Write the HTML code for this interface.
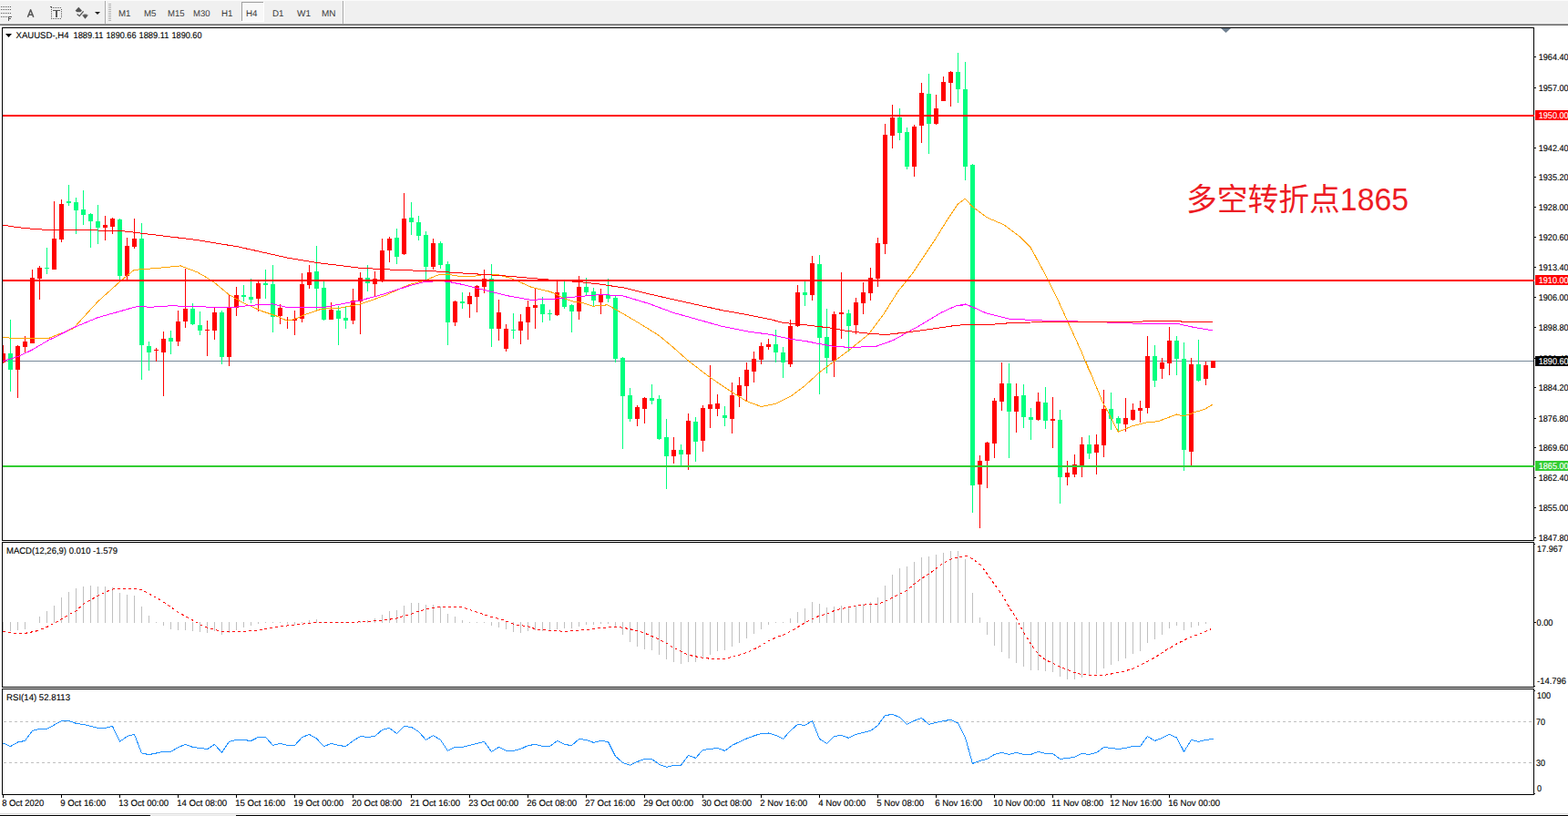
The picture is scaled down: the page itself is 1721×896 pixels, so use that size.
<!DOCTYPE html>
<html><head><meta charset="utf-8"><title>XAUUSD H4</title>
<style>
html,body{margin:0;padding:0;background:#fff;}
body{width:1721px;height:896px;overflow:hidden;position:relative;font-family:"Liberation Sans",sans-serif;}
svg{position:absolute;left:0;top:0;}
text{font-family:"Liberation Sans",sans-serif;}

#tb{position:absolute;left:0;top:0;width:1721px;height:28px;background:#f0f0f0;}
</style></head><body>
<div id="tb">
<svg width="1721" height="28" viewBox="0 0 1721 28">
<rect x="0" y="0" width="1721" height="1" fill="#fbfbfb"/>
<rect x="0" y="25" width="1721" height="1" fill="#f3f3f3"/>
<rect x="0" y="26" width="1721" height="1" fill="#a0a0a0"/>
<rect x="0" y="27" width="1721" height="1" fill="#696969"/>
<g shape-rendering="crispEdges">
<!-- fibo icon -->
<g fill="#5a5a5a">
<path d="M1 7h1v1h-1zM3 7h1v1h-1zM5 7h1v1h-1zM7 7h1v1h-1zM9 7h1v1h-1zM11 7h1v1h-1zM1 10h1v1h-1zM3 10h1v1h-1zM5 10h1v1h-1zM7 10h1v1h-1zM9 10h1v1h-1zM11 10h1v1h-1zM1 14h1v1h-1zM3 14h1v1h-1zM5 14h1v1h-1zM7 14h1v1h-1zM9 14h1v1h-1zM11 14h1v1h-1zM1 18h1v1h-1zM3 18h1v1h-1zM5 18h1v1h-1zM7 18h1v1h-1z"/>
<path d="M9 18h4v1h-3v1h2v1h-2v2h-1z"/>
</g>
<!-- T box -->
<g fill="#5a5a5a">
<path d="M56 8h1v1h-1zM58 8h1v1h-1zM60 8h1v1h-1zM62 8h1v1h-1zM64 8h1v1h-1zM66 8h1v1h-1zM56 20h1v1h-1zM58 20h1v1h-1zM60 20h1v1h-1zM62 20h1v1h-1zM64 20h1v1h-1zM66 20h1v1h-1zM56 10h1v1h-1zM56 12h1v1h-1zM56 14h1v1h-1zM56 16h1v1h-1zM56 18h1v1h-1zM67 10h1v1h-1zM67 12h1v1h-1zM67 14h1v1h-1zM67 16h1v1h-1zM67 18h1v1h-1zM55 7h2v1h-2z"/>
<path d="M58 11h8v1.3h-3v6.7h-2v-6.7h-3z"/>
</g>
<!-- separators -->
<rect x="115" y="1" width="1" height="25" fill="#a8a8a8"/>
<rect x="116" y="1" width="1" height="25" fill="#fdfdfd"/>
<rect x="376" y="1" width="1" height="25" fill="#a8a8a8"/>
<rect x="377" y="1" width="1" height="25" fill="#fdfdfd"/>
<!-- grip -->
<path d="M119 4h3v1h-3zM119 6h3v1h-3zM119 8h3v1h-3zM119 10h3v1h-3zM119 12h3v1h-3zM119 14h3v1h-3zM119 16h3v1h-3zM119 18h3v1h-3zM119 20h3v1h-3zM119 22h3v1h-3z" fill="#b4b4b4"/>
<!-- H4 button -->
<rect x="265" y="2" width="25" height="22" fill="#f8f8f8"/>
<rect x="265" y="2" width="25" height="1" fill="#a0a0a0"/>
<rect x="265" y="2" width="1" height="22" fill="#a0a0a0"/>
<rect x="265" y="23" width="25" height="1" fill="#ffffff"/>
<rect x="289" y="2" width="1" height="22" fill="#ffffff"/>
</g>
<!-- A icon -->
<path d="M30.4 18.9L33.6 10.8L36.8 18.9M31.5 16.2H35.7" fill="none" stroke="#585858" stroke-width="1.5" stroke-linejoin="round"/>
<!-- arrows icon -->
<g fill="#555">
<path d="M82.6 11.8L86.3 7.8L90 11.8L88.2 13.2H84.4Z"/>
<path d="M90 16.6H97L93.5 20.8Z"/>
<path d="M91.6 15.6h3.8v1.2h-3.8z"/>
</g>
<path d="M84.6 15.6l2.6 2.1l4.4-5.4" fill="none" stroke="#555" stroke-width="1.3"/>
<path d="M104 13h6l-3 3z" fill="#202020"/>
<g font-family="Liberation Sans, sans-serif" font-size="9.8" fill="#3a3a3a">
<text transform="translate(130,18) skewX(0.05)" textLength="13.5" lengthAdjust="spacingAndGlyphs">M1</text>
<text transform="translate(158,18) skewX(0.05)" textLength="13.5" lengthAdjust="spacingAndGlyphs">M5</text>
<text transform="translate(184,18) skewX(0.05)" textLength="18.5" lengthAdjust="spacingAndGlyphs">M15</text>
<text transform="translate(212,18) skewX(0.05)" textLength="18.5" lengthAdjust="spacingAndGlyphs">M30</text>
<text transform="translate(243,18) skewX(0.05)" textLength="12.5" lengthAdjust="spacingAndGlyphs">H1</text>
<text transform="translate(270,18) skewX(0.05)" textLength="12.5" lengthAdjust="spacingAndGlyphs">H4</text>
<text transform="translate(299,18) skewX(0.05)" textLength="12.5" lengthAdjust="spacingAndGlyphs">D1</text>
<text transform="translate(326,18) skewX(0.05)" textLength="15" lengthAdjust="spacingAndGlyphs">W1</text>
<text transform="translate(353,18) skewX(0.05)" textLength="15.5" lengthAdjust="spacingAndGlyphs">MN</text>
</g>
</svg>
</div>

<svg width="1721" height="896" viewBox="0 0 1721 896">
<g shape-rendering="crispEdges">
<rect x="3" y="396" width="1680" height="1" fill="#778899"/>
<rect x="3" y="379" width="1" height="20" fill="#ff0000"/>
<rect x="3" y="388" width="3" height="10" fill="#ff0000"/>
<rect x="11" y="351" width="1" height="79" fill="#00ff7f"/>
<rect x="9" y="388" width="5" height="18" fill="#00ff7f"/>
<rect x="19" y="379" width="1" height="58" fill="#ff0000"/>
<rect x="17" y="380" width="5" height="26" fill="#ff0000"/>
<rect x="27" y="369" width="1" height="18" fill="#ff0000"/>
<rect x="25" y="375" width="5" height="6" fill="#ff0000"/>
<rect x="35" y="296" width="1" height="81" fill="#ff0000"/>
<rect x="33" y="305" width="5" height="72" fill="#ff0000"/>
<rect x="43" y="292" width="1" height="37" fill="#ff0000"/>
<rect x="41" y="294" width="5" height="12" fill="#ff0000"/>
<rect x="51" y="272" width="1" height="29" fill="#00ff7f"/>
<rect x="49" y="294" width="5" height="1" fill="#00ff7f"/>
<rect x="59" y="221" width="1" height="75" fill="#ff0000"/>
<rect x="57" y="262" width="5" height="34" fill="#ff0000"/>
<rect x="67" y="219" width="1" height="47" fill="#ff0000"/>
<rect x="65" y="224" width="5" height="39" fill="#ff0000"/>
<rect x="75" y="203" width="1" height="23" fill="#00ff7f"/>
<rect x="73" y="221" width="5" height="2" fill="#00ff7f"/>
<rect x="83" y="217" width="1" height="40" fill="#00ff7f"/>
<rect x="81" y="222" width="5" height="9" fill="#00ff7f"/>
<rect x="91" y="209" width="1" height="38" fill="#00ff7f"/>
<rect x="89" y="230" width="5" height="6" fill="#00ff7f"/>
<rect x="99" y="234" width="1" height="38" fill="#00ff7f"/>
<rect x="97" y="235" width="5" height="8" fill="#00ff7f"/>
<rect x="107" y="225" width="1" height="43" fill="#00ff7f"/>
<rect x="105" y="243" width="5" height="7" fill="#00ff7f"/>
<rect x="115" y="237" width="1" height="27" fill="#ff0000"/>
<rect x="113" y="247" width="5" height="3" fill="#ff0000"/>
<rect x="123" y="239" width="1" height="18" fill="#ff0000"/>
<rect x="121" y="240" width="5" height="9" fill="#ff0000"/>
<rect x="131" y="240" width="1" height="67" fill="#00ff7f"/>
<rect x="129" y="241" width="5" height="62" fill="#00ff7f"/>
<rect x="139" y="261" width="1" height="46" fill="#ff0000"/>
<rect x="137" y="270" width="5" height="33" fill="#ff0000"/>
<rect x="147" y="240" width="1" height="33" fill="#ff0000"/>
<rect x="145" y="262" width="5" height="9" fill="#ff0000"/>
<rect x="155" y="245" width="1" height="172" fill="#00ff7f"/>
<rect x="153" y="262" width="5" height="117" fill="#00ff7f"/>
<rect x="163" y="375" width="1" height="32" fill="#00ff7f"/>
<rect x="161" y="380" width="5" height="7" fill="#00ff7f"/>
<rect x="171" y="382" width="1" height="15" fill="#ff0000"/>
<rect x="169" y="384" width="5" height="1" fill="#ff0000"/>
<rect x="179" y="364" width="1" height="71" fill="#ff0000"/>
<rect x="177" y="372" width="5" height="15" fill="#ff0000"/>
<rect x="187" y="363" width="1" height="26" fill="#00ff7f"/>
<rect x="185" y="371" width="5" height="4" fill="#00ff7f"/>
<rect x="195" y="341" width="1" height="39" fill="#ff0000"/>
<rect x="193" y="353" width="5" height="22" fill="#ff0000"/>
<rect x="203" y="295" width="1" height="65" fill="#ff0000"/>
<rect x="201" y="339" width="5" height="14" fill="#ff0000"/>
<rect x="211" y="333" width="1" height="24" fill="#00ff7f"/>
<rect x="209" y="339" width="5" height="17" fill="#00ff7f"/>
<rect x="219" y="342" width="1" height="26" fill="#00ff7f"/>
<rect x="217" y="357" width="5" height="6" fill="#00ff7f"/>
<rect x="227" y="352" width="1" height="39" fill="#ff0000"/>
<rect x="225" y="362" width="5" height="1" fill="#ff0000"/>
<rect x="235" y="337" width="1" height="36" fill="#ff0000"/>
<rect x="233" y="343" width="5" height="20" fill="#ff0000"/>
<rect x="243" y="341" width="1" height="59" fill="#00ff7f"/>
<rect x="241" y="343" width="5" height="49" fill="#00ff7f"/>
<rect x="251" y="324" width="1" height="78" fill="#ff0000"/>
<rect x="249" y="338" width="5" height="54" fill="#ff0000"/>
<rect x="259" y="315" width="1" height="32" fill="#ff0000"/>
<rect x="257" y="324" width="5" height="14" fill="#ff0000"/>
<rect x="267" y="313" width="1" height="18" fill="#00ff7f"/>
<rect x="265" y="324" width="5" height="2" fill="#00ff7f"/>
<rect x="275" y="306" width="1" height="27" fill="#00ff7f"/>
<rect x="273" y="326" width="5" height="3" fill="#00ff7f"/>
<rect x="283" y="308" width="1" height="34" fill="#ff0000"/>
<rect x="281" y="311" width="5" height="17" fill="#ff0000"/>
<rect x="291" y="296" width="1" height="32" fill="#00ff7f"/>
<rect x="289" y="311" width="5" height="2" fill="#00ff7f"/>
<rect x="299" y="291" width="1" height="74" fill="#00ff7f"/>
<rect x="297" y="312" width="5" height="36" fill="#00ff7f"/>
<rect x="307" y="334" width="1" height="22" fill="#ff0000"/>
<rect x="305" y="338" width="5" height="9" fill="#ff0000"/>
<rect x="315" y="348" width="1" height="13" fill="#ff0000"/>
<rect x="313" y="351" width="5" height="1" fill="#ff0000"/>
<rect x="323" y="341" width="1" height="27" fill="#ff0000"/>
<rect x="321" y="350" width="5" height="2" fill="#ff0000"/>
<rect x="331" y="300" width="1" height="54" fill="#ff0000"/>
<rect x="329" y="312" width="5" height="38" fill="#ff0000"/>
<rect x="339" y="291" width="1" height="26" fill="#ff0000"/>
<rect x="337" y="299" width="5" height="14" fill="#ff0000"/>
<rect x="347" y="270" width="1" height="72" fill="#00ff7f"/>
<rect x="345" y="298" width="5" height="19" fill="#00ff7f"/>
<rect x="355" y="309" width="1" height="43" fill="#00ff7f"/>
<rect x="353" y="316" width="5" height="35" fill="#00ff7f"/>
<rect x="363" y="332" width="1" height="19" fill="#ff0000"/>
<rect x="361" y="340" width="5" height="11" fill="#ff0000"/>
<rect x="371" y="336" width="1" height="43" fill="#00ff7f"/>
<rect x="369" y="341" width="5" height="9" fill="#00ff7f"/>
<rect x="379" y="337" width="1" height="24" fill="#00ff7f"/>
<rect x="377" y="349" width="5" height="3" fill="#00ff7f"/>
<rect x="387" y="317" width="1" height="39" fill="#ff0000"/>
<rect x="385" y="330" width="5" height="22" fill="#ff0000"/>
<rect x="395" y="299" width="1" height="68" fill="#ff0000"/>
<rect x="393" y="305" width="5" height="26" fill="#ff0000"/>
<rect x="403" y="291" width="1" height="29" fill="#00ff7f"/>
<rect x="401" y="305" width="5" height="6" fill="#00ff7f"/>
<rect x="411" y="298" width="1" height="28" fill="#ff0000"/>
<rect x="409" y="306" width="5" height="6" fill="#ff0000"/>
<rect x="419" y="262" width="1" height="48" fill="#ff0000"/>
<rect x="417" y="275" width="5" height="33" fill="#ff0000"/>
<rect x="427" y="260" width="1" height="28" fill="#ff0000"/>
<rect x="425" y="262" width="5" height="13" fill="#ff0000"/>
<rect x="435" y="251" width="1" height="39" fill="#00ff7f"/>
<rect x="433" y="261" width="5" height="21" fill="#00ff7f"/>
<rect x="443" y="212" width="1" height="68" fill="#ff0000"/>
<rect x="441" y="240" width="5" height="39" fill="#ff0000"/>
<rect x="451" y="222" width="1" height="36" fill="#00ff7f"/>
<rect x="449" y="239" width="5" height="5" fill="#00ff7f"/>
<rect x="459" y="237" width="1" height="27" fill="#00ff7f"/>
<rect x="457" y="244" width="5" height="15" fill="#00ff7f"/>
<rect x="467" y="254" width="1" height="53" fill="#00ff7f"/>
<rect x="465" y="258" width="5" height="35" fill="#00ff7f"/>
<rect x="475" y="262" width="1" height="34" fill="#ff0000"/>
<rect x="473" y="267" width="5" height="26" fill="#ff0000"/>
<rect x="483" y="265" width="1" height="30" fill="#00ff7f"/>
<rect x="481" y="267" width="5" height="24" fill="#00ff7f"/>
<rect x="491" y="287" width="1" height="92" fill="#00ff7f"/>
<rect x="489" y="290" width="5" height="64" fill="#00ff7f"/>
<rect x="499" y="330" width="1" height="28" fill="#ff0000"/>
<rect x="497" y="331" width="5" height="23" fill="#ff0000"/>
<rect x="507" y="321" width="1" height="18" fill="#00ff7f"/>
<rect x="505" y="331" width="5" height="2" fill="#00ff7f"/>
<rect x="515" y="321" width="1" height="28" fill="#ff0000"/>
<rect x="513" y="325" width="5" height="9" fill="#ff0000"/>
<rect x="523" y="313" width="1" height="30" fill="#ff0000"/>
<rect x="521" y="314" width="5" height="12" fill="#ff0000"/>
<rect x="531" y="296" width="1" height="26" fill="#ff0000"/>
<rect x="529" y="306" width="5" height="9" fill="#ff0000"/>
<rect x="539" y="290" width="1" height="91" fill="#00ff7f"/>
<rect x="537" y="306" width="5" height="55" fill="#00ff7f"/>
<rect x="547" y="329" width="1" height="45" fill="#ff0000"/>
<rect x="545" y="343" width="5" height="18" fill="#ff0000"/>
<rect x="555" y="356" width="1" height="30" fill="#ff0000"/>
<rect x="553" y="361" width="5" height="22" fill="#ff0000"/>
<rect x="563" y="344" width="1" height="28" fill="#00ff7f"/>
<rect x="561" y="362" width="5" height="1" fill="#00ff7f"/>
<rect x="571" y="345" width="1" height="33" fill="#ff0000"/>
<rect x="569" y="353" width="5" height="10" fill="#ff0000"/>
<rect x="579" y="330" width="1" height="43" fill="#ff0000"/>
<rect x="577" y="337" width="5" height="17" fill="#ff0000"/>
<rect x="587" y="317" width="1" height="44" fill="#ff0000"/>
<rect x="585" y="335" width="5" height="3" fill="#ff0000"/>
<rect x="595" y="326" width="1" height="28" fill="#00ff7f"/>
<rect x="593" y="334" width="5" height="11" fill="#00ff7f"/>
<rect x="603" y="340" width="1" height="12" fill="#00ff7f"/>
<rect x="601" y="344" width="5" height="1" fill="#00ff7f"/>
<rect x="611" y="309" width="1" height="38" fill="#ff0000"/>
<rect x="609" y="321" width="5" height="25" fill="#ff0000"/>
<rect x="619" y="309" width="1" height="30" fill="#00ff7f"/>
<rect x="617" y="321" width="5" height="16" fill="#00ff7f"/>
<rect x="627" y="334" width="1" height="31" fill="#00ff7f"/>
<rect x="625" y="335" width="5" height="7" fill="#00ff7f"/>
<rect x="635" y="303" width="1" height="48" fill="#ff0000"/>
<rect x="633" y="315" width="5" height="27" fill="#ff0000"/>
<rect x="643" y="305" width="1" height="20" fill="#00ff7f"/>
<rect x="641" y="315" width="5" height="6" fill="#00ff7f"/>
<rect x="651" y="316" width="1" height="20" fill="#00ff7f"/>
<rect x="649" y="320" width="5" height="10" fill="#00ff7f"/>
<rect x="659" y="317" width="1" height="28" fill="#ff0000"/>
<rect x="657" y="324" width="5" height="8" fill="#ff0000"/>
<rect x="667" y="306" width="1" height="26" fill="#00ff7f"/>
<rect x="665" y="324" width="5" height="4" fill="#00ff7f"/>
<rect x="675" y="324" width="1" height="74" fill="#00ff7f"/>
<rect x="673" y="327" width="5" height="67" fill="#00ff7f"/>
<rect x="683" y="392" width="1" height="101" fill="#00ff7f"/>
<rect x="681" y="393" width="5" height="42" fill="#00ff7f"/>
<rect x="691" y="426" width="1" height="37" fill="#00ff7f"/>
<rect x="689" y="434" width="5" height="26" fill="#00ff7f"/>
<rect x="699" y="445" width="1" height="23" fill="#ff0000"/>
<rect x="697" y="447" width="5" height="13" fill="#ff0000"/>
<rect x="707" y="436" width="1" height="29" fill="#ff0000"/>
<rect x="705" y="437" width="5" height="12" fill="#ff0000"/>
<rect x="715" y="422" width="1" height="22" fill="#00ff7f"/>
<rect x="713" y="437" width="5" height="3" fill="#00ff7f"/>
<rect x="723" y="434" width="1" height="49" fill="#00ff7f"/>
<rect x="721" y="438" width="5" height="44" fill="#00ff7f"/>
<rect x="731" y="460" width="1" height="77" fill="#00ff7f"/>
<rect x="729" y="480" width="5" height="21" fill="#00ff7f"/>
<rect x="739" y="480" width="1" height="29" fill="#ff0000"/>
<rect x="737" y="494" width="5" height="7" fill="#ff0000"/>
<rect x="747" y="488" width="1" height="24" fill="#00ff7f"/>
<rect x="745" y="494" width="5" height="5" fill="#00ff7f"/>
<rect x="755" y="454" width="1" height="62" fill="#ff0000"/>
<rect x="753" y="462" width="5" height="37" fill="#ff0000"/>
<rect x="763" y="458" width="1" height="49" fill="#00ff7f"/>
<rect x="761" y="463" width="5" height="22" fill="#00ff7f"/>
<rect x="771" y="445" width="1" height="51" fill="#ff0000"/>
<rect x="769" y="448" width="5" height="36" fill="#ff0000"/>
<rect x="779" y="401" width="1" height="69" fill="#ff0000"/>
<rect x="777" y="444" width="5" height="5" fill="#ff0000"/>
<rect x="787" y="433" width="1" height="24" fill="#ff0000"/>
<rect x="785" y="443" width="5" height="6" fill="#ff0000"/>
<rect x="795" y="446" width="1" height="22" fill="#00ff7f"/>
<rect x="793" y="456" width="5" height="3" fill="#00ff7f"/>
<rect x="803" y="420" width="1" height="56" fill="#ff0000"/>
<rect x="801" y="434" width="5" height="26" fill="#ff0000"/>
<rect x="811" y="414" width="1" height="33" fill="#ff0000"/>
<rect x="809" y="423" width="5" height="12" fill="#ff0000"/>
<rect x="819" y="398" width="1" height="43" fill="#ff0000"/>
<rect x="817" y="406" width="5" height="18" fill="#ff0000"/>
<rect x="827" y="386" width="1" height="34" fill="#ff0000"/>
<rect x="825" y="394" width="5" height="14" fill="#ff0000"/>
<rect x="835" y="376" width="1" height="24" fill="#ff0000"/>
<rect x="833" y="380" width="5" height="15" fill="#ff0000"/>
<rect x="843" y="372" width="1" height="12" fill="#ff0000"/>
<rect x="841" y="378" width="5" height="3" fill="#ff0000"/>
<rect x="851" y="362" width="1" height="36" fill="#00ff7f"/>
<rect x="849" y="378" width="5" height="9" fill="#00ff7f"/>
<rect x="859" y="381" width="1" height="34" fill="#00ff7f"/>
<rect x="857" y="387" width="5" height="11" fill="#00ff7f"/>
<rect x="867" y="351" width="1" height="52" fill="#ff0000"/>
<rect x="865" y="358" width="5" height="42" fill="#ff0000"/>
<rect x="875" y="313" width="1" height="46" fill="#ff0000"/>
<rect x="873" y="321" width="5" height="37" fill="#ff0000"/>
<rect x="883" y="309" width="1" height="27" fill="#00ff7f"/>
<rect x="881" y="321" width="5" height="3" fill="#00ff7f"/>
<rect x="891" y="281" width="1" height="49" fill="#ff0000"/>
<rect x="889" y="289" width="5" height="35" fill="#ff0000"/>
<rect x="899" y="280" width="1" height="153" fill="#00ff7f"/>
<rect x="897" y="290" width="5" height="81" fill="#00ff7f"/>
<rect x="907" y="339" width="1" height="71" fill="#00ff7f"/>
<rect x="905" y="370" width="5" height="23" fill="#00ff7f"/>
<rect x="915" y="342" width="1" height="72" fill="#ff0000"/>
<rect x="913" y="345" width="5" height="51" fill="#ff0000"/>
<rect x="923" y="299" width="1" height="73" fill="#ff0000"/>
<rect x="921" y="343" width="5" height="2" fill="#ff0000"/>
<rect x="931" y="340" width="1" height="46" fill="#00ff7f"/>
<rect x="929" y="344" width="5" height="14" fill="#00ff7f"/>
<rect x="939" y="327" width="1" height="40" fill="#ff0000"/>
<rect x="937" y="332" width="5" height="25" fill="#ff0000"/>
<rect x="947" y="310" width="1" height="35" fill="#ff0000"/>
<rect x="945" y="321" width="5" height="12" fill="#ff0000"/>
<rect x="955" y="294" width="1" height="36" fill="#ff0000"/>
<rect x="953" y="305" width="5" height="17" fill="#ff0000"/>
<rect x="963" y="261" width="1" height="54" fill="#ff0000"/>
<rect x="961" y="267" width="5" height="39" fill="#ff0000"/>
<rect x="971" y="136" width="1" height="143" fill="#ff0000"/>
<rect x="969" y="148" width="5" height="120" fill="#ff0000"/>
<rect x="979" y="115" width="1" height="48" fill="#ff0000"/>
<rect x="977" y="129" width="5" height="20" fill="#ff0000"/>
<rect x="987" y="119" width="1" height="35" fill="#00ff7f"/>
<rect x="985" y="129" width="5" height="17" fill="#00ff7f"/>
<rect x="995" y="140" width="1" height="46" fill="#00ff7f"/>
<rect x="993" y="145" width="5" height="38" fill="#00ff7f"/>
<rect x="1003" y="137" width="1" height="57" fill="#ff0000"/>
<rect x="1001" y="139" width="5" height="44" fill="#ff0000"/>
<rect x="1011" y="91" width="1" height="66" fill="#ff0000"/>
<rect x="1009" y="102" width="5" height="36" fill="#ff0000"/>
<rect x="1019" y="81" width="1" height="88" fill="#00ff7f"/>
<rect x="1017" y="103" width="5" height="33" fill="#00ff7f"/>
<rect x="1027" y="104" width="1" height="33" fill="#ff0000"/>
<rect x="1025" y="119" width="5" height="17" fill="#ff0000"/>
<rect x="1035" y="84" width="1" height="27" fill="#ff0000"/>
<rect x="1033" y="90" width="5" height="21" fill="#ff0000"/>
<rect x="1043" y="78" width="1" height="39" fill="#ff0000"/>
<rect x="1041" y="79" width="5" height="12" fill="#ff0000"/>
<rect x="1051" y="58" width="1" height="55" fill="#00ff7f"/>
<rect x="1049" y="79" width="5" height="19" fill="#00ff7f"/>
<rect x="1059" y="68" width="1" height="130" fill="#00ff7f"/>
<rect x="1057" y="98" width="5" height="85" fill="#00ff7f"/>
<rect x="1067" y="180" width="1" height="383" fill="#00ff7f"/>
<rect x="1065" y="181" width="5" height="352" fill="#00ff7f"/>
<rect x="1075" y="500" width="1" height="80" fill="#ff0000"/>
<rect x="1073" y="506" width="5" height="26" fill="#ff0000"/>
<rect x="1083" y="485" width="1" height="51" fill="#ff0000"/>
<rect x="1081" y="486" width="5" height="20" fill="#ff0000"/>
<rect x="1091" y="437" width="1" height="66" fill="#ff0000"/>
<rect x="1089" y="440" width="5" height="47" fill="#ff0000"/>
<rect x="1099" y="398" width="1" height="53" fill="#ff0000"/>
<rect x="1097" y="421" width="5" height="20" fill="#ff0000"/>
<rect x="1107" y="399" width="1" height="104" fill="#00ff7f"/>
<rect x="1105" y="421" width="5" height="31" fill="#00ff7f"/>
<rect x="1115" y="421" width="1" height="54" fill="#ff0000"/>
<rect x="1113" y="435" width="5" height="17" fill="#ff0000"/>
<rect x="1123" y="422" width="1" height="48" fill="#00ff7f"/>
<rect x="1121" y="434" width="5" height="24" fill="#00ff7f"/>
<rect x="1131" y="448" width="1" height="35" fill="#00ff7f"/>
<rect x="1129" y="458" width="5" height="3" fill="#00ff7f"/>
<rect x="1139" y="431" width="1" height="31" fill="#ff0000"/>
<rect x="1137" y="441" width="5" height="20" fill="#ff0000"/>
<rect x="1147" y="425" width="1" height="46" fill="#00ff7f"/>
<rect x="1145" y="442" width="5" height="20" fill="#00ff7f"/>
<rect x="1155" y="436" width="1" height="56" fill="#ff0000"/>
<rect x="1153" y="460" width="5" height="2" fill="#ff0000"/>
<rect x="1163" y="450" width="1" height="103" fill="#00ff7f"/>
<rect x="1161" y="461" width="5" height="63" fill="#00ff7f"/>
<rect x="1171" y="506" width="1" height="27" fill="#ff0000"/>
<rect x="1169" y="519" width="5" height="5" fill="#ff0000"/>
<rect x="1179" y="499" width="1" height="25" fill="#ff0000"/>
<rect x="1177" y="510" width="5" height="11" fill="#ff0000"/>
<rect x="1187" y="480" width="1" height="44" fill="#ff0000"/>
<rect x="1185" y="488" width="5" height="23" fill="#ff0000"/>
<rect x="1195" y="478" width="1" height="26" fill="#00ff7f"/>
<rect x="1193" y="488" width="5" height="10" fill="#00ff7f"/>
<rect x="1203" y="477" width="1" height="44" fill="#ff0000"/>
<rect x="1201" y="488" width="5" height="9" fill="#ff0000"/>
<rect x="1211" y="428" width="1" height="74" fill="#ff0000"/>
<rect x="1209" y="449" width="5" height="40" fill="#ff0000"/>
<rect x="1219" y="431" width="1" height="41" fill="#00ff7f"/>
<rect x="1217" y="449" width="5" height="11" fill="#00ff7f"/>
<rect x="1227" y="457" width="1" height="18" fill="#00ff7f"/>
<rect x="1225" y="459" width="5" height="6" fill="#00ff7f"/>
<rect x="1235" y="437" width="1" height="37" fill="#ff0000"/>
<rect x="1233" y="459" width="5" height="7" fill="#ff0000"/>
<rect x="1243" y="443" width="1" height="19" fill="#ff0000"/>
<rect x="1241" y="450" width="5" height="11" fill="#ff0000"/>
<rect x="1251" y="440" width="1" height="24" fill="#ff0000"/>
<rect x="1249" y="448" width="5" height="3" fill="#ff0000"/>
<rect x="1259" y="369" width="1" height="85" fill="#ff0000"/>
<rect x="1257" y="391" width="5" height="57" fill="#ff0000"/>
<rect x="1267" y="379" width="1" height="46" fill="#00ff7f"/>
<rect x="1265" y="391" width="5" height="27" fill="#00ff7f"/>
<rect x="1275" y="393" width="1" height="23" fill="#ff0000"/>
<rect x="1273" y="398" width="5" height="7" fill="#ff0000"/>
<rect x="1283" y="359" width="1" height="53" fill="#ff0000"/>
<rect x="1281" y="374" width="5" height="25" fill="#ff0000"/>
<rect x="1291" y="369" width="1" height="43" fill="#00ff7f"/>
<rect x="1289" y="374" width="5" height="20" fill="#00ff7f"/>
<rect x="1299" y="376" width="1" height="141" fill="#00ff7f"/>
<rect x="1297" y="394" width="5" height="100" fill="#00ff7f"/>
<rect x="1307" y="393" width="1" height="118" fill="#ff0000"/>
<rect x="1305" y="400" width="5" height="96" fill="#ff0000"/>
<rect x="1315" y="373" width="1" height="46" fill="#00ff7f"/>
<rect x="1313" y="400" width="5" height="18" fill="#00ff7f"/>
<rect x="1323" y="397" width="1" height="26" fill="#ff0000"/>
<rect x="1321" y="401" width="5" height="15" fill="#ff0000"/>
<rect x="1331" y="396" width="1" height="8" fill="#ff0000"/>
<rect x="1329" y="396" width="5" height="8" fill="#ff0000"/>
<polyline points="2.7,370.6 26.8,372.0 53.6,371.4 80.4,360.7 107.2,331.3 133.9,307.2 147.3,296.4 174.1,294.3 198.2,291.9 215.9,298.6 224.1,303.1 234.8,309.8 250.9,323.2 266.9,332.6 288.4,342.0 304.4,347.3 315.2,352.2 323.2,350.5 336.6,344.7 352.7,339.3 374.1,338.0 395.5,333.9 422.3,324.6 449.1,312.5 465.2,308.5 481.2,301.8 492.0,301.3 508.0,303.9 521.4,303.1 529.5,301.8 545.5,301.3 561.6,305.8 583.0,315.2 604.5,320.5 620.5,328.0 631.3,331.8 637.9,332.1 650.8,336.2 666.8,334.8 685.6,345.5 701.6,354.9 723.1,368.3 739.2,381.7 755.2,395.9 776.7,412.5 798.1,427.2 819.5,440.6 835.6,446.5 851.7,443.3 867.7,435.3 883.8,423.2 899.9,408.5 916.0,396.4 932.0,384.4 953.5,367.0 969.5,345.5 985.6,320.1 1001.7,300.0 1008.4,290.0 1027.2,261.6 1040.5,240.2 1051.3,224.1 1059.3,218.2 1067.3,226.8 1083.4,238.9 1102.2,246.9 1118.2,258.9 1131.6,272.3 1141.0,290.0 1131.1,271.8 1147.2,301.3 1160.5,328.0 1173.9,357.5 1187.3,387.0 1196.7,410.0 1191.4,395.9 1209.4,439.6 1227.4,474.2 1242.8,467.8 1258.2,464.0 1271.0,462.7 1291.5,455.0 1299.2,457.0 1312.1,452.4 1322.3,449.3 1330.8,444.2" fill="none" stroke="#ffa500" stroke-width="1" />
<polyline points="3.1,396.6 20.5,391.3 35.6,384.0 53.6,373.3 60.0,370.4 80.4,359.9 107.2,348.7 133.9,341.2 150.0,336.6 166.1,337.2 187.5,335.8 215.9,336.6 250.9,338.0 275.0,335.3 299.1,333.9 315.2,337.4 352.7,338.0 374.1,333.9 395.5,329.9 422.3,322.7 449.1,313.8 465.2,309.8 481.2,308.5 492.0,309.3 508.0,312.5 529.5,317.9 556.2,324.6 583.0,329.4 609.8,328.0 637.9,325.4 658.8,323.6 682.9,324.6 712.4,333.5 739.2,343.4 765.9,350.9 792.7,358.4 819.5,363.8 846.3,367.5 865.1,371.8 886.5,375.0 899.9,377.7 918.6,380.9 940.1,381.2 961.5,380.4 980.2,373.7 1007.0,358.9 1033.8,342.9 1049.9,335.6 1061.9,334.0 1050.7,336.1 1059.3,333.9 1069.5,338.0 1082.9,344.1 1107.0,350.0 1147.2,352.2 1173.9,352.7 1214.1,354.0 1254.3,355.4 1291.8,355.4 1307.9,358.9 1330.7,362.9" fill="none" stroke="#ff00ff" stroke-width="1" />
<polyline points="2.7,246.9 18.8,249.6 32.1,250.9 48.2,252.2 67.0,252.5 107.2,253.0 133.9,253.6 174.1,258.4 215.9,263.5 261.6,271.0 315.2,283.0 347.3,288.4 395.5,294.3 435.7,296.4 475.9,297.8 502.7,299.7 529.5,301.3 556.2,303.1 596.4,306.6 637.9,309.8 658.8,312.1 685.6,316.1 712.4,322.8 739.2,328.9 765.9,334.8 792.7,340.7 819.5,345.5 846.3,350.9 859.7,354.4 886.5,357.1 913.3,360.3 926.7,363.0 953.5,366.2 972.2,367.5 993.6,365.1 1020.4,361.6 1047.2,357.6 1061.9,356.3 1058.8,356.2 1080.2,357.0 1107.0,354.8 1147.2,353.5 1200.7,353.2 1254.3,353.0 1294.5,352.7 1299.8,353.5 1330.7,353.5" fill="none" stroke="#ff0000" stroke-width="1" />
<rect x="3" y="126" width="1681" height="2" fill="#ff0000"/>
<rect x="3" y="307" width="1681" height="2" fill="#ff0000"/>
<rect x="3" y="511" width="1681" height="2" fill="#32cd32"/>
<rect x="3" y="683" width="1" height="10" fill="#c0c0c0"/>
<rect x="11" y="683" width="1" height="10" fill="#c0c0c0"/>
<rect x="19" y="683" width="1" height="9" fill="#c0c0c0"/>
<rect x="27" y="683" width="1" height="8" fill="#c0c0c0"/>
<rect x="43" y="677" width="1" height="7" fill="#c0c0c0"/>
<rect x="51" y="671" width="1" height="13" fill="#c0c0c0"/>
<rect x="59" y="665" width="1" height="19" fill="#c0c0c0"/>
<rect x="67" y="656" width="1" height="28" fill="#c0c0c0"/>
<rect x="75" y="650" width="1" height="34" fill="#c0c0c0"/>
<rect x="83" y="646" width="1" height="38" fill="#c0c0c0"/>
<rect x="91" y="644" width="1" height="40" fill="#c0c0c0"/>
<rect x="99" y="643" width="1" height="41" fill="#c0c0c0"/>
<rect x="107" y="644" width="1" height="40" fill="#c0c0c0"/>
<rect x="115" y="644" width="1" height="40" fill="#c0c0c0"/>
<rect x="123" y="645" width="1" height="39" fill="#c0c0c0"/>
<rect x="131" y="651" width="1" height="33" fill="#c0c0c0"/>
<rect x="139" y="653" width="1" height="31" fill="#c0c0c0"/>
<rect x="147" y="654" width="1" height="30" fill="#c0c0c0"/>
<rect x="155" y="666" width="1" height="18" fill="#c0c0c0"/>
<rect x="163" y="676" width="1" height="8" fill="#c0c0c0"/>
<rect x="171" y="683" width="1" height="1" fill="#c0c0c0"/>
<rect x="179" y="683" width="1" height="4" fill="#c0c0c0"/>
<rect x="187" y="683" width="1" height="8" fill="#c0c0c0"/>
<rect x="195" y="683" width="1" height="9" fill="#c0c0c0"/>
<rect x="203" y="683" width="1" height="9" fill="#c0c0c0"/>
<rect x="211" y="683" width="1" height="10" fill="#c0c0c0"/>
<rect x="219" y="683" width="1" height="11" fill="#c0c0c0"/>
<rect x="227" y="683" width="1" height="12" fill="#c0c0c0"/>
<rect x="235" y="683" width="1" height="10" fill="#c0c0c0"/>
<rect x="243" y="683" width="1" height="14" fill="#c0c0c0"/>
<rect x="251" y="683" width="1" height="12" fill="#c0c0c0"/>
<rect x="259" y="683" width="1" height="9" fill="#c0c0c0"/>
<rect x="267" y="683" width="1" height="6" fill="#c0c0c0"/>
<rect x="275" y="683" width="1" height="4" fill="#c0c0c0"/>
<rect x="283" y="683" width="1" height="2" fill="#c0c0c0"/>
<rect x="291" y="683" width="1" height="1" fill="#c0c0c0"/>
<rect x="299" y="683" width="1" height="1" fill="#c0c0c0"/>
<rect x="307" y="683" width="1" height="1" fill="#c0c0c0"/>
<rect x="315" y="683" width="1" height="2" fill="#c0c0c0"/>
<rect x="323" y="683" width="1" height="3" fill="#c0c0c0"/>
<rect x="331" y="683" width="1" height="1" fill="#c0c0c0"/>
<rect x="339" y="681" width="1" height="3" fill="#c0c0c0"/>
<rect x="347" y="680" width="1" height="4" fill="#c0c0c0"/>
<rect x="355" y="683" width="1" height="1" fill="#c0c0c0"/>
<rect x="363" y="683" width="1" height="1" fill="#c0c0c0"/>
<rect x="371" y="683" width="1" height="1" fill="#c0c0c0"/>
<rect x="379" y="683" width="1" height="1" fill="#c0c0c0"/>
<rect x="387" y="683" width="1" height="1" fill="#c0c0c0"/>
<rect x="395" y="682" width="1" height="2" fill="#c0c0c0"/>
<rect x="403" y="681" width="1" height="3" fill="#c0c0c0"/>
<rect x="411" y="679" width="1" height="5" fill="#c0c0c0"/>
<rect x="419" y="675" width="1" height="9" fill="#c0c0c0"/>
<rect x="427" y="671" width="1" height="13" fill="#c0c0c0"/>
<rect x="435" y="670" width="1" height="14" fill="#c0c0c0"/>
<rect x="443" y="665" width="1" height="19" fill="#c0c0c0"/>
<rect x="451" y="662" width="1" height="22" fill="#c0c0c0"/>
<rect x="459" y="662" width="1" height="22" fill="#c0c0c0"/>
<rect x="467" y="664" width="1" height="20" fill="#c0c0c0"/>
<rect x="475" y="664" width="1" height="20" fill="#c0c0c0"/>
<rect x="483" y="666" width="1" height="18" fill="#c0c0c0"/>
<rect x="491" y="674" width="1" height="10" fill="#c0c0c0"/>
<rect x="499" y="677" width="1" height="7" fill="#c0c0c0"/>
<rect x="507" y="681" width="1" height="3" fill="#c0c0c0"/>
<rect x="515" y="683" width="1" height="1" fill="#c0c0c0"/>
<rect x="523" y="683" width="1" height="1" fill="#c0c0c0"/>
<rect x="531" y="683" width="1" height="1" fill="#c0c0c0"/>
<rect x="539" y="683" width="1" height="4" fill="#c0c0c0"/>
<rect x="547" y="683" width="1" height="6" fill="#c0c0c0"/>
<rect x="555" y="683" width="1" height="8" fill="#c0c0c0"/>
<rect x="563" y="683" width="1" height="11" fill="#c0c0c0"/>
<rect x="571" y="683" width="1" height="12" fill="#c0c0c0"/>
<rect x="579" y="683" width="1" height="10" fill="#c0c0c0"/>
<rect x="587" y="683" width="1" height="9" fill="#c0c0c0"/>
<rect x="595" y="683" width="1" height="10" fill="#c0c0c0"/>
<rect x="603" y="683" width="1" height="9" fill="#c0c0c0"/>
<rect x="611" y="683" width="1" height="8" fill="#c0c0c0"/>
<rect x="619" y="683" width="1" height="7" fill="#c0c0c0"/>
<rect x="627" y="683" width="1" height="7" fill="#c0c0c0"/>
<rect x="635" y="683" width="1" height="5" fill="#c0c0c0"/>
<rect x="643" y="683" width="1" height="3" fill="#c0c0c0"/>
<rect x="651" y="683" width="1" height="3" fill="#c0c0c0"/>
<rect x="659" y="683" width="1" height="2" fill="#c0c0c0"/>
<rect x="667" y="683" width="1" height="2" fill="#c0c0c0"/>
<rect x="675" y="683" width="1" height="6" fill="#c0c0c0"/>
<rect x="683" y="683" width="1" height="14" fill="#c0c0c0"/>
<rect x="691" y="683" width="1" height="22" fill="#c0c0c0"/>
<rect x="699" y="683" width="1" height="27" fill="#c0c0c0"/>
<rect x="707" y="683" width="1" height="30" fill="#c0c0c0"/>
<rect x="715" y="683" width="1" height="31" fill="#c0c0c0"/>
<rect x="723" y="683" width="1" height="36" fill="#c0c0c0"/>
<rect x="731" y="683" width="1" height="41" fill="#c0c0c0"/>
<rect x="739" y="683" width="1" height="44" fill="#c0c0c0"/>
<rect x="747" y="683" width="1" height="46" fill="#c0c0c0"/>
<rect x="755" y="683" width="1" height="44" fill="#c0c0c0"/>
<rect x="763" y="683" width="1" height="44" fill="#c0c0c0"/>
<rect x="771" y="683" width="1" height="39" fill="#c0c0c0"/>
<rect x="779" y="683" width="1" height="36" fill="#c0c0c0"/>
<rect x="787" y="683" width="1" height="32" fill="#c0c0c0"/>
<rect x="795" y="683" width="1" height="31" fill="#c0c0c0"/>
<rect x="803" y="683" width="1" height="27" fill="#c0c0c0"/>
<rect x="811" y="683" width="1" height="23" fill="#c0c0c0"/>
<rect x="819" y="683" width="1" height="18" fill="#c0c0c0"/>
<rect x="827" y="683" width="1" height="13" fill="#c0c0c0"/>
<rect x="835" y="683" width="1" height="8" fill="#c0c0c0"/>
<rect x="843" y="683" width="1" height="3" fill="#c0c0c0"/>
<rect x="851" y="683" width="1" height="1" fill="#c0c0c0"/>
<rect x="859" y="683" width="1" height="1" fill="#c0c0c0"/>
<rect x="867" y="679" width="1" height="5" fill="#c0c0c0"/>
<rect x="875" y="672" width="1" height="12" fill="#c0c0c0"/>
<rect x="883" y="668" width="1" height="16" fill="#c0c0c0"/>
<rect x="891" y="661" width="1" height="23" fill="#c0c0c0"/>
<rect x="899" y="663" width="1" height="21" fill="#c0c0c0"/>
<rect x="907" y="667" width="1" height="17" fill="#c0c0c0"/>
<rect x="915" y="666" width="1" height="18" fill="#c0c0c0"/>
<rect x="923" y="665" width="1" height="19" fill="#c0c0c0"/>
<rect x="931" y="666" width="1" height="18" fill="#c0c0c0"/>
<rect x="939" y="665" width="1" height="19" fill="#c0c0c0"/>
<rect x="947" y="663" width="1" height="21" fill="#c0c0c0"/>
<rect x="955" y="661" width="1" height="23" fill="#c0c0c0"/>
<rect x="963" y="656" width="1" height="28" fill="#c0c0c0"/>
<rect x="971" y="643" width="1" height="41" fill="#c0c0c0"/>
<rect x="979" y="631" width="1" height="53" fill="#c0c0c0"/>
<rect x="987" y="624" width="1" height="60" fill="#c0c0c0"/>
<rect x="995" y="622" width="1" height="62" fill="#c0c0c0"/>
<rect x="1003" y="617" width="1" height="67" fill="#c0c0c0"/>
<rect x="1011" y="612" width="1" height="72" fill="#c0c0c0"/>
<rect x="1019" y="611" width="1" height="73" fill="#c0c0c0"/>
<rect x="1027" y="609" width="1" height="75" fill="#c0c0c0"/>
<rect x="1035" y="607" width="1" height="77" fill="#c0c0c0"/>
<rect x="1043" y="605" width="1" height="79" fill="#c0c0c0"/>
<rect x="1051" y="605" width="1" height="79" fill="#c0c0c0"/>
<rect x="1059" y="614" width="1" height="70" fill="#c0c0c0"/>
<rect x="1067" y="651" width="1" height="33" fill="#c0c0c0"/>
<rect x="1075" y="678" width="1" height="6" fill="#c0c0c0"/>
<rect x="1083" y="683" width="1" height="14" fill="#c0c0c0"/>
<rect x="1091" y="683" width="1" height="26" fill="#c0c0c0"/>
<rect x="1099" y="683" width="1" height="33" fill="#c0c0c0"/>
<rect x="1107" y="683" width="1" height="40" fill="#c0c0c0"/>
<rect x="1115" y="683" width="1" height="45" fill="#c0c0c0"/>
<rect x="1123" y="683" width="1" height="49" fill="#c0c0c0"/>
<rect x="1131" y="683" width="1" height="53" fill="#c0c0c0"/>
<rect x="1139" y="683" width="1" height="53" fill="#c0c0c0"/>
<rect x="1147" y="683" width="1" height="54" fill="#c0c0c0"/>
<rect x="1155" y="683" width="1" height="55" fill="#c0c0c0"/>
<rect x="1163" y="683" width="1" height="60" fill="#c0c0c0"/>
<rect x="1171" y="683" width="1" height="63" fill="#c0c0c0"/>
<rect x="1179" y="683" width="1" height="63" fill="#c0c0c0"/>
<rect x="1187" y="683" width="1" height="61" fill="#c0c0c0"/>
<rect x="1195" y="683" width="1" height="59" fill="#c0c0c0"/>
<rect x="1203" y="683" width="1" height="57" fill="#c0c0c0"/>
<rect x="1211" y="683" width="1" height="51" fill="#c0c0c0"/>
<rect x="1219" y="683" width="1" height="47" fill="#c0c0c0"/>
<rect x="1227" y="683" width="1" height="43" fill="#c0c0c0"/>
<rect x="1235" y="683" width="1" height="40" fill="#c0c0c0"/>
<rect x="1243" y="683" width="1" height="35" fill="#c0c0c0"/>
<rect x="1251" y="683" width="1" height="32" fill="#c0c0c0"/>
<rect x="1259" y="683" width="1" height="23" fill="#c0c0c0"/>
<rect x="1267" y="683" width="1" height="19" fill="#c0c0c0"/>
<rect x="1275" y="683" width="1" height="14" fill="#c0c0c0"/>
<rect x="1283" y="683" width="1" height="7" fill="#c0c0c0"/>
<rect x="1291" y="683" width="1" height="4" fill="#c0c0c0"/>
<rect x="1299" y="683" width="1" height="9" fill="#c0c0c0"/>
<rect x="1307" y="683" width="1" height="6" fill="#c0c0c0"/>
<rect x="1315" y="683" width="1" height="4" fill="#c0c0c0"/>
<rect x="1323" y="683" width="1" height="2" fill="#c0c0c0"/>
<polyline points="3.4,693.3 16.0,695.3 28.0,695.3 40.0,692.9 52.0,688.3 64.0,681.9 76.0,674.6 83.3,671.0 91.9,663.0 99.9,658.4 107.9,654.0 115.9,650.0 123.9,647.0 139.9,646.4 151.9,646.4 159.9,650.0 171.9,656.4 183.9,664.0 195.9,672.6 207.9,678.9 219.9,685.9 227.9,689.5 243.9,693.3 259.8,693.9 283.8,692.3 295.8,689.5 311.8,687.5 323.8,685.9 339.8,684.3 356.0,683.3 388.0,683.3 404.0,682.3 419.9,681.3 435.9,678.9 443.9,676.0 451.9,674.0 459.9,671.0 467.9,669.0 475.9,667.4 483.9,666.4 507.9,667.0 515.9,669.6 527.9,673.6 539.9,677.5 551.9,680.5 563.9,685.5 579.9,687.9 587.8,690.9 603.8,692.3 619.8,693.3 631.8,692.5 647.8,690.9 659.8,689.3 675.8,688.3 684.0,689.3 700.0,692.5 712.0,696.9 724.0,702.5 732.0,706.3 740.0,711.9 748.0,715.3 755.9,719.3 763.9,720.9 771.9,722.3 779.9,723.3 795.9,723.3 807.9,720.3 819.9,716.3 831.9,710.9 843.9,703.5 851.9,699.9 859.9,696.9 871.9,690.9 879.9,685.9 891.9,679.5 899.9,676.0 907.9,674.0 915.9,670.4 923.8,668.4 939.8,665.4 951.8,663.6 963.8,663.4 971.8,660.0 979.8,656.0 987.8,652.0 995.8,648.0 1003.8,641.0 1011.8,635.0 1020.0,630.0 1028.0,623.6 1036.0,618.0 1044.0,614.0 1052.0,612.0 1060.0,610.0 1068.0,614.0 1076.0,620.0 1084.0,631.0 1091.9,642.0 1099.9,653.0 1107.9,667.0 1115.9,679.9 1123.9,694.9 1131.9,707.9 1139.9,718.9 1147.9,724.9 1155.9,728.3 1163.9,732.3 1171.9,735.5 1181.9,739.5 1195.9,741.5 1211.9,741.3 1231.9,737.9 1243.9,733.9 1255.9,727.9 1267.8,721.9 1279.8,713.9 1291.8,706.9 1303.8,700.9 1315.8,696.3 1328.8,690.9" fill="none" stroke="#ff0000" stroke-width="1" stroke-dasharray="3 3"/>
<line x1="4" y1="792.5" x2="1681" y2="792.5" stroke="#c0c0c0" stroke-width="1" stroke-dasharray="3 3"/>
<line x1="4" y1="837.5" x2="1681" y2="837.5" stroke="#c0c0c0" stroke-width="1" stroke-dasharray="3 3"/>
<polyline points="3.5,816.0 11.5,819.6 19.5,815.0 27.5,813.4 35.5,802.4 43.5,800.4 51.5,800.4 59.5,796.0 67.5,791.6 75.5,791.4 83.5,794.4 91.5,795.4 99.5,797.4 107.5,799.4 115.5,799.4 123.5,797.4 131.5,814.4 139.5,808.4 147.5,806.4 155.5,827.0 163.5,828.6 171.5,827.0 179.5,825.4 187.5,825.4 195.5,820.6 203.5,817.4 211.5,820.4 219.5,821.4 227.5,822.6 235.5,817.4 243.5,826.4 251.5,814.4 259.5,812.4 267.5,812.4 275.5,813.6 283.5,809.4 291.5,809.4 299.5,818.4 307.5,816.4 315.5,818.4 323.5,818.4 331.5,809.6 339.5,806.4 347.5,811.0 355.5,819.6 363.5,816.4 371.5,818.4 379.5,819.6 387.5,813.4 395.5,808.6 403.5,809.4 411.5,808.4 419.5,801.4 427.5,799.4 435.5,805.4 443.5,797.4 451.5,798.4 459.5,803.4 467.5,812.4 475.5,807.6 483.5,812.4 491.5,824.4 499.5,820.4 507.5,820.4 515.5,818.4 523.5,816.4 531.5,814.4 539.5,825.4 547.5,820.4 555.5,824.4 563.5,824.4 571.5,822.4 579.5,818.6 587.5,817.4 595.5,819.4 603.5,819.4 611.5,813.4 619.5,817.4 627.5,818.6 635.5,811.4 643.5,812.4 651.5,815.4 659.5,813.4 667.5,814.4 675.5,830.4 683.5,837.4 691.5,840.3 699.5,836.4 707.5,833.4 715.5,833.4 723.5,839.3 731.5,842.3 739.5,840.3 747.5,840.3 755.5,829.4 763.5,832.4 771.5,823.4 779.5,822.4 787.5,821.4 795.5,824.4 803.5,818.4 811.5,814.6 819.5,811.0 827.5,808.0 835.5,805.4 843.5,805.0 851.5,807.4 859.5,811.4 867.5,802.4 875.5,795.4 883.5,796.4 891.5,791.6 899.5,811.4 907.5,816.4 915.5,808.4 923.5,807.4 931.5,810.4 939.5,806.4 947.5,804.4 955.5,802.4 963.5,796.4 971.5,785.6 979.5,784.4 987.5,787.6 995.5,795.4 1003.5,791.4 1011.5,788.4 1019.5,795.4 1027.5,793.4 1035.5,791.6 1043.5,790.4 1051.5,794.0 1059.5,810.0 1067.5,838.4 1075.5,835.4 1083.5,833.4 1091.5,828.4 1099.5,826.4 1107.5,828.4 1115.5,826.4 1123.5,828.4 1131.5,828.4 1139.5,825.4 1147.5,827.4 1155.5,827.4 1163.5,833.4 1171.5,832.4 1179.5,831.4 1187.5,827.4 1195.5,828.4 1203.5,826.4 1211.5,820.4 1219.5,821.4 1227.5,822.4 1235.5,821.4 1243.5,819.4 1251.5,819.4 1259.5,808.6 1267.5,813.4 1275.5,810.4 1283.5,806.4 1291.5,810.0 1299.5,825.4 1307.5,812.4 1315.5,814.4 1323.5,812.4 1331.5,811.4" fill="none" stroke="#1e90ff" stroke-width="1" />
</g>
<g shape-rendering="crispEdges">
<rect x="2" y="30" width="1682" height="1" fill="#000"/>
<rect x="2" y="30" width="1" height="564" fill="#000"/>
<rect x="2" y="593" width="1682" height="1" fill="#000"/>
<rect x="2" y="595" width="1682" height="1" fill="#000"/>
<rect x="2" y="595" width="1" height="160" fill="#000"/>
<rect x="2" y="754" width="1682" height="1" fill="#000"/>
<rect x="2" y="756" width="1682" height="1" fill="#000"/>
<rect x="2" y="756" width="1" height="117" fill="#000"/>
<rect x="2" y="872" width="1682" height="1" fill="#000"/>
<rect x="1683" y="30" width="1" height="564" fill="#000"/>
<rect x="1683" y="595" width="1" height="160" fill="#000"/>
<rect x="1683" y="756" width="1" height="117" fill="#000"/>
<rect x="1683" y="126" width="1" height="2" fill="#ff0000"/>
<rect x="1683" y="307" width="1" height="2" fill="#ff0000"/>
<rect x="1683" y="511" width="1" height="2" fill="#32cd32"/>
<rect x="1684" y="62" width="2" height="1" fill="#000"/>
<rect x="1684" y="96" width="2" height="1" fill="#000"/>
<rect x="1684" y="162" width="2" height="1" fill="#000"/>
<rect x="1684" y="194" width="2" height="1" fill="#000"/>
<rect x="1684" y="227" width="2" height="1" fill="#000"/>
<rect x="1684" y="260" width="2" height="1" fill="#000"/>
<rect x="1684" y="293" width="2" height="1" fill="#000"/>
<rect x="1684" y="326" width="2" height="1" fill="#000"/>
<rect x="1684" y="359" width="2" height="1" fill="#000"/>
<rect x="1684" y="393" width="2" height="1" fill="#000"/>
<rect x="1684" y="425" width="2" height="1" fill="#000"/>
<rect x="1684" y="459" width="2" height="1" fill="#000"/>
<rect x="1684" y="491" width="2" height="1" fill="#000"/>
<rect x="1684" y="524" width="2" height="1" fill="#000"/>
<rect x="1684" y="557" width="2" height="1" fill="#000"/>
<rect x="1684" y="590" width="2" height="1" fill="#000"/>
<rect x="1684" y="683" width="2" height="1" fill="#000"/>
<rect x="1684" y="597" width="1" height="1" fill="#000"/>
<rect x="1684" y="753" width="1" height="1" fill="#000"/>
<rect x="1684" y="758" width="1" height="1" fill="#000"/>
<rect x="1684" y="871" width="1" height="1" fill="#000"/>
<rect x="3" y="873" width="1" height="3" fill="#000"/>
<rect x="67" y="873" width="1" height="3" fill="#000"/>
<rect x="131" y="873" width="1" height="3" fill="#000"/>
<rect x="195" y="873" width="1" height="3" fill="#000"/>
<rect x="259" y="873" width="1" height="3" fill="#000"/>
<rect x="323" y="873" width="1" height="3" fill="#000"/>
<rect x="387" y="873" width="1" height="3" fill="#000"/>
<rect x="451" y="873" width="1" height="3" fill="#000"/>
<rect x="515" y="873" width="1" height="3" fill="#000"/>
<rect x="579" y="873" width="1" height="3" fill="#000"/>
<rect x="643" y="873" width="1" height="3" fill="#000"/>
<rect x="707" y="873" width="1" height="3" fill="#000"/>
<rect x="771" y="873" width="1" height="3" fill="#000"/>
<rect x="835" y="873" width="1" height="3" fill="#000"/>
<rect x="899" y="873" width="1" height="3" fill="#000"/>
<rect x="963" y="873" width="1" height="3" fill="#000"/>
<rect x="1027" y="873" width="1" height="3" fill="#000"/>
<rect x="1091" y="873" width="1" height="3" fill="#000"/>
<rect x="1155" y="873" width="1" height="3" fill="#000"/>
<rect x="1219" y="873" width="1" height="3" fill="#000"/>
<rect x="1283" y="873" width="1" height="3" fill="#000"/>
</g>
<g font-family="Liberation Sans, sans-serif">
<text transform="translate(1688.7,65.6) skewX(0.05)" fill="#000" font-size="9.8" textLength="33" lengthAdjust="spacingAndGlyphs" stroke="#000" stroke-width="0.12" >1964.40</text>
<text transform="translate(1688.7,99.6) skewX(0.05)" fill="#000" font-size="9.8" textLength="33" lengthAdjust="spacingAndGlyphs" stroke="#000" stroke-width="0.12" >1957.00</text>
<text transform="translate(1688.7,165.6) skewX(0.05)" fill="#000" font-size="9.8" textLength="33" lengthAdjust="spacingAndGlyphs" stroke="#000" stroke-width="0.12" >1942.40</text>
<text transform="translate(1688.7,197.6) skewX(0.05)" fill="#000" font-size="9.8" textLength="33" lengthAdjust="spacingAndGlyphs" stroke="#000" stroke-width="0.12" >1935.20</text>
<text transform="translate(1688.7,230.6) skewX(0.05)" fill="#000" font-size="9.8" textLength="33" lengthAdjust="spacingAndGlyphs" stroke="#000" stroke-width="0.12" >1928.00</text>
<text transform="translate(1688.7,263.6) skewX(0.05)" fill="#000" font-size="9.8" textLength="33" lengthAdjust="spacingAndGlyphs" stroke="#000" stroke-width="0.12" >1920.60</text>
<text transform="translate(1688.7,296.6) skewX(0.05)" fill="#000" font-size="9.8" textLength="33" lengthAdjust="spacingAndGlyphs" stroke="#000" stroke-width="0.12" >1913.40</text>
<text transform="translate(1688.7,329.6) skewX(0.05)" fill="#000" font-size="9.8" textLength="33" lengthAdjust="spacingAndGlyphs" stroke="#000" stroke-width="0.12" >1906.00</text>
<text transform="translate(1688.7,362.6) skewX(0.05)" fill="#000" font-size="9.8" textLength="33" lengthAdjust="spacingAndGlyphs" stroke="#000" stroke-width="0.12" >1898.80</text>
<text transform="translate(1688.7,396.6) skewX(0.05)" fill="#000" font-size="9.8" textLength="33" lengthAdjust="spacingAndGlyphs" stroke="#000" stroke-width="0.12" >1891.40</text>
<text transform="translate(1688.7,428.6) skewX(0.05)" fill="#000" font-size="9.8" textLength="33" lengthAdjust="spacingAndGlyphs" stroke="#000" stroke-width="0.12" >1884.20</text>
<text transform="translate(1688.7,462.6) skewX(0.05)" fill="#000" font-size="9.8" textLength="33" lengthAdjust="spacingAndGlyphs" stroke="#000" stroke-width="0.12" >1876.80</text>
<text transform="translate(1688.7,494.6) skewX(0.05)" fill="#000" font-size="9.8" textLength="33" lengthAdjust="spacingAndGlyphs" stroke="#000" stroke-width="0.12" >1869.60</text>
<text transform="translate(1688.7,527.6) skewX(0.05)" fill="#000" font-size="9.8" textLength="33" lengthAdjust="spacingAndGlyphs" stroke="#000" stroke-width="0.12" >1862.40</text>
<text transform="translate(1688.7,560.6) skewX(0.05)" fill="#000" font-size="9.8" textLength="33" lengthAdjust="spacingAndGlyphs" stroke="#000" stroke-width="0.12" >1855.00</text>
<text transform="translate(1688.7,593.6) skewX(0.05)" fill="#000" font-size="9.8" textLength="33" lengthAdjust="spacingAndGlyphs" stroke="#000" stroke-width="0.12" >1847.80</text>
<rect x="1685" y="121" width="36" height="11" fill="#ff0000" shape-rendering="crispEdges"/>
<text transform="translate(1688.7,129.6) skewX(0.05)" fill="#fff" font-size="9.8" textLength="33" lengthAdjust="spacingAndGlyphs" stroke="#fff" stroke-width="0.12" >1950.00</text>
<rect x="1685" y="302" width="36" height="11" fill="#ff0000" shape-rendering="crispEdges"/>
<text transform="translate(1688.7,310.6) skewX(0.05)" fill="#fff" font-size="9.8" textLength="33" lengthAdjust="spacingAndGlyphs" stroke="#fff" stroke-width="0.12" >1910.00</text>
<rect x="1685" y="506" width="36" height="11" fill="#32cd32" shape-rendering="crispEdges"/>
<text transform="translate(1688.7,514.6) skewX(0.05)" fill="#fff" font-size="9.8" textLength="33" lengthAdjust="spacingAndGlyphs" stroke="#fff" stroke-width="0.12" >1865.00</text>
<rect x="1685" y="391" width="36" height="11" fill="#000" shape-rendering="crispEdges"/>
<text transform="translate(1688.7,399.6) skewX(0.05)" fill="#fff" font-size="9.8" textLength="33" lengthAdjust="spacingAndGlyphs" stroke="#fff" stroke-width="0.12" >1890.60</text>
<text transform="translate(1687,606) skewX(0.05)" fill="#000" font-size="9.8" textLength="28" lengthAdjust="spacingAndGlyphs" stroke="#000" stroke-width="0.12" >17.967</text>
<text transform="translate(1686.5,687) skewX(0.05)" fill="#000" font-size="9.8" textLength="18" lengthAdjust="spacingAndGlyphs" stroke="#000" stroke-width="0.12" >0.00</text>
<text transform="translate(1687,750.5) skewX(0.05)" fill="#000" font-size="9.8" textLength="32" lengthAdjust="spacingAndGlyphs" stroke="#000" stroke-width="0.12" >-14.796</text>
<text transform="translate(1687,767) skewX(0.05)" fill="#000" font-size="9.8" textLength="15" lengthAdjust="spacingAndGlyphs" stroke="#000" stroke-width="0.12" >100</text>
<text transform="translate(1686,795.5) skewX(0.05)" fill="#000" font-size="9.8" textLength="10" lengthAdjust="spacingAndGlyphs" stroke="#000" stroke-width="0.12" >70</text>
<text transform="translate(1686,840.5) skewX(0.05)" fill="#000" font-size="9.8" textLength="10" lengthAdjust="spacingAndGlyphs" stroke="#000" stroke-width="0.12" >30</text>
<text transform="translate(1687,869) skewX(0.05)" fill="#000" font-size="9.8" textLength="5" lengthAdjust="spacingAndGlyphs" stroke="#000" stroke-width="0.12" >0</text>
<text transform="translate(2.2,885) skewX(0.05)" fill="#000" font-size="9.8" textLength="46" lengthAdjust="spacingAndGlyphs" stroke="#000" stroke-width="0.12" >8 Oct 2020</text>
<text transform="translate(66.2,885) skewX(0.05)" fill="#000" font-size="9.8" textLength="50" lengthAdjust="spacingAndGlyphs" stroke="#000" stroke-width="0.12" >9 Oct 16:00</text>
<text transform="translate(130.2,885) skewX(0.05)" fill="#000" font-size="9.8" textLength="55" lengthAdjust="spacingAndGlyphs" stroke="#000" stroke-width="0.12" >13 Oct 00:00</text>
<text transform="translate(194.2,885) skewX(0.05)" fill="#000" font-size="9.8" textLength="55" lengthAdjust="spacingAndGlyphs" stroke="#000" stroke-width="0.12" >14 Oct 08:00</text>
<text transform="translate(258.2,885) skewX(0.05)" fill="#000" font-size="9.8" textLength="55" lengthAdjust="spacingAndGlyphs" stroke="#000" stroke-width="0.12" >15 Oct 16:00</text>
<text transform="translate(322.2,885) skewX(0.05)" fill="#000" font-size="9.8" textLength="55" lengthAdjust="spacingAndGlyphs" stroke="#000" stroke-width="0.12" >19 Oct 00:00</text>
<text transform="translate(386.2,885) skewX(0.05)" fill="#000" font-size="9.8" textLength="55" lengthAdjust="spacingAndGlyphs" stroke="#000" stroke-width="0.12" >20 Oct 08:00</text>
<text transform="translate(450.2,885) skewX(0.05)" fill="#000" font-size="9.8" textLength="55" lengthAdjust="spacingAndGlyphs" stroke="#000" stroke-width="0.12" >21 Oct 16:00</text>
<text transform="translate(514.2,885) skewX(0.05)" fill="#000" font-size="9.8" textLength="55" lengthAdjust="spacingAndGlyphs" stroke="#000" stroke-width="0.12" >23 Oct 00:00</text>
<text transform="translate(578.2,885) skewX(0.05)" fill="#000" font-size="9.8" textLength="55" lengthAdjust="spacingAndGlyphs" stroke="#000" stroke-width="0.12" >26 Oct 08:00</text>
<text transform="translate(642.2,885) skewX(0.05)" fill="#000" font-size="9.8" textLength="55" lengthAdjust="spacingAndGlyphs" stroke="#000" stroke-width="0.12" >27 Oct 16:00</text>
<text transform="translate(706.2,885) skewX(0.05)" fill="#000" font-size="9.8" textLength="55" lengthAdjust="spacingAndGlyphs" stroke="#000" stroke-width="0.12" >29 Oct 00:00</text>
<text transform="translate(770.2,885) skewX(0.05)" fill="#000" font-size="9.8" textLength="55" lengthAdjust="spacingAndGlyphs" stroke="#000" stroke-width="0.12" >30 Oct 08:00</text>
<text transform="translate(834.2,885) skewX(0.05)" fill="#000" font-size="9.8" textLength="52" lengthAdjust="spacingAndGlyphs" stroke="#000" stroke-width="0.12" >2 Nov 16:00</text>
<text transform="translate(898.2,885) skewX(0.05)" fill="#000" font-size="9.8" textLength="52" lengthAdjust="spacingAndGlyphs" stroke="#000" stroke-width="0.12" >4 Nov 00:00</text>
<text transform="translate(962.2,885) skewX(0.05)" fill="#000" font-size="9.8" textLength="52" lengthAdjust="spacingAndGlyphs" stroke="#000" stroke-width="0.12" >5 Nov 08:00</text>
<text transform="translate(1026.2,885) skewX(0.05)" fill="#000" font-size="9.8" textLength="52" lengthAdjust="spacingAndGlyphs" stroke="#000" stroke-width="0.12" >6 Nov 16:00</text>
<text transform="translate(1090.2,885) skewX(0.05)" fill="#000" font-size="9.8" textLength="57" lengthAdjust="spacingAndGlyphs" stroke="#000" stroke-width="0.12" >10 Nov 00:00</text>
<text transform="translate(1154.2,885) skewX(0.05)" fill="#000" font-size="9.8" textLength="57" lengthAdjust="spacingAndGlyphs" stroke="#000" stroke-width="0.12" >11 Nov 08:00</text>
<text transform="translate(1218.2,885) skewX(0.05)" fill="#000" font-size="9.8" textLength="57" lengthAdjust="spacingAndGlyphs" stroke="#000" stroke-width="0.12" >12 Nov 16:00</text>
<text transform="translate(1282.2,885) skewX(0.05)" fill="#000" font-size="9.8" textLength="57" lengthAdjust="spacingAndGlyphs" stroke="#000" stroke-width="0.12" >16 Nov 00:00</text>
<text transform="translate(17.5,42) skewX(0.05)" fill="#000" font-size="9.8" textLength="58" lengthAdjust="spacingAndGlyphs" stroke="#000" stroke-width="0.12" >XAUUSD-,H4</text>
<text transform="translate(80.5,42) skewX(0.05)" fill="#000" font-size="9.8" textLength="33" lengthAdjust="spacingAndGlyphs" stroke="#000" stroke-width="0.12" >1889.11</text>
<text transform="translate(116.5,42) skewX(0.05)" fill="#000" font-size="9.8" textLength="33" lengthAdjust="spacingAndGlyphs" stroke="#000" stroke-width="0.12" >1890.66</text>
<text transform="translate(152.5,42) skewX(0.05)" fill="#000" font-size="9.8" textLength="33" lengthAdjust="spacingAndGlyphs" stroke="#000" stroke-width="0.12" >1889.11</text>
<text transform="translate(188.5,42) skewX(0.05)" fill="#000" font-size="9.8" textLength="33" lengthAdjust="spacingAndGlyphs" stroke="#000" stroke-width="0.12" >1890.60</text>
<text transform="translate(7,608) skewX(0.05)" fill="#000" font-size="9.8" textLength="122" lengthAdjust="spacingAndGlyphs" stroke="#000" stroke-width="0.12" >MACD(12,26,9) 0.010 -1.579</text>
<text transform="translate(7,769) skewX(0.05)" fill="#000" font-size="9.8" textLength="70" lengthAdjust="spacingAndGlyphs" stroke="#000" stroke-width="0.12" >RSI(14) 52.8113</text>
</g>
<path d="M6 37h7l-3.5 4z" fill="#000"/>
<path d="M1340 31h11l-5.5 5z" fill="#708090"/>
<text x="1302" y="231" fill="#ed1c24" font-size="34.5" textLength="244" lengthAdjust="spacingAndGlyphs" style="font-family:'Liberation Sans','Noto Sans CJK SC',sans-serif;">多空转折点1865</text>
<g shape-rendering="crispEdges">
<rect x="0" y="893" width="1721" height="1" fill="#dcdcdc"/>
<rect x="0" y="894" width="1721" height="1" fill="#f4f4f4"/>
<rect x="0" y="895" width="165" height="1" fill="#000"/>
<rect x="165" y="895" width="94" height="1" fill="#e8e8e8"/>
<rect x="259" y="895" width="1462" height="1" fill="#000"/>
</g>
</svg>
</body></html>
